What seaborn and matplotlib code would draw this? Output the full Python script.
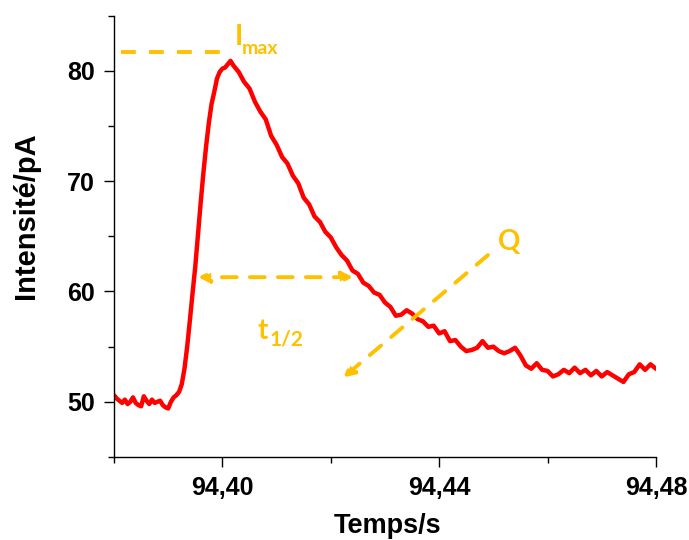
import numpy as np
import matplotlib.pyplot as plt
import seaborn as sns
import pandas as pd
from matplotlib.ticker import MultipleLocator, FuncFormatter

# temps (s) et intensité (pA)
temps = [
    94.3800, 94.3805, 94.3810, 94.3815, 94.3820, 94.3825, 94.3830, 94.3835, 94.3840, 94.3845,
    94.3850, 94.3855, 94.3860, 94.3865, 94.3870, 94.3875, 94.3880, 94.3885, 94.3890, 94.3895,
    94.3900, 94.3905, 94.3910, 94.3915, 94.3920, 94.3925, 94.3930, 94.3935, 94.3940, 94.3945,
    94.3950, 94.3955, 94.3960, 94.3965, 94.3970, 94.3975, 94.3980, 94.3985, 94.3990, 94.3995,
    94.4000, 94.4005, 94.4010, 94.4015, 94.4020,
    94.403, 94.404, 94.405, 94.406, 94.407, 94.408, 94.409, 94.410, 94.411, 94.412,
    94.413, 94.414, 94.415, 94.416, 94.417, 94.418, 94.419, 94.420, 94.421, 94.422,
    94.423, 94.424, 94.425, 94.426, 94.427, 94.428, 94.429, 94.430, 94.431, 94.432,
    94.433, 94.434, 94.435, 94.436, 94.437, 94.438, 94.439, 94.440, 94.441, 94.442,
    94.443, 94.444, 94.445, 94.446, 94.447, 94.448, 94.449, 94.450, 94.451, 94.452,
    94.453, 94.454, 94.455, 94.456, 94.457, 94.458, 94.459, 94.460, 94.461, 94.462,
    94.463, 94.464, 94.465, 94.466, 94.467, 94.468, 94.469, 94.470, 94.471, 94.472,
    94.473, 94.474, 94.475, 94.476, 94.477, 94.478, 94.479, 94.480,
]
intensite = [
    50.6, 50.3, 50.1, 49.9, 50.2, 49.8, 50.0, 50.4, 49.9, 49.7,
    49.6, 50.5, 50.1, 49.8, 50.2, 49.9, 50.0, 50.1, 49.7, 49.5,
    49.4, 50.0, 50.4, 50.6, 50.9, 51.6, 53.0, 55.0, 57.4, 59.9,
    62.3, 65.2, 68.1, 70.8, 73.2, 75.3, 77.0, 78.1, 79.3, 79.9,
    80.2, 80.3, 80.6, 80.9, 80.5,
    79.9, 79.0, 78.4, 77.2, 76.3, 75.6, 74.1, 73.3, 72.2, 71.6,
    70.5, 69.8, 68.5, 67.9, 66.8, 66.3, 65.4, 64.9, 64.0, 63.3,
    62.8, 61.9, 61.6, 60.8, 60.5, 59.9, 59.7, 59.0, 58.6, 57.8,
    57.9, 58.3, 58.0, 57.5, 57.3, 56.8, 56.9, 56.2, 56.4, 55.5,
    55.6, 55.0, 54.6, 54.7, 54.9, 55.5, 54.9, 55.0, 54.6, 54.4,
    54.6, 54.9, 54.2, 53.3, 53.0, 53.5, 52.9, 52.8, 52.3, 52.5,
    52.9, 52.6, 53.1, 52.6, 52.9, 52.4, 52.8, 52.3, 52.7, 52.4,
    52.1, 51.8, 52.5, 52.7, 53.4, 52.9, 53.4, 53.0,
]
x_ticks = [94.40, 94.44, 94.48]
y_ticks = [50, 60, 70, 80]

data = pd.DataFrame({"temps": temps, "intensite": intensite})

sns.set_style("ticks")
plt.rcParams["font.family"] = ["Liberation Sans", "DejaVu Sans"]

gold = "#FFC000"
dash = (0, (3.8, 3.4))

fig = plt.figure(figsize=(6.89, 5.40), dpi=100)
ax = fig.add_axes([0.1655, 0.1537, 0.7865, 0.8173])

sns.lineplot(data=data, x="temps", y="intensite", color="#FF0000", linewidth=3.2, ax=ax)

ax.set_xlim(94.38, 94.48)
ax.set_ylim(45, 85)
ax.set_xticks(x_ticks)
ax.set_yticks(y_ticks)
ax.xaxis.set_minor_locator(MultipleLocator(0.02))
ax.yaxis.set_minor_locator(MultipleLocator(5))
ax.xaxis.set_major_formatter(FuncFormatter(lambda v, p: f"{v:.2f}".replace(".", ",")))
ax.tick_params(which="major", length=7, width=1, pad=7, labelsize=18, direction="out",
               color="black", labelcolor="black")
ax.tick_params(which="minor", length=4, width=1, direction="out", color="black")
for lab in ax.get_xticklabels() + ax.get_yticklabels():
    lab.set_fontweight("bold")

for side in ["top", "right"]:
    ax.spines[side].set_visible(False)
for side in ["left", "bottom"]:
    ax.spines[side].set_color("black")
    ax.spines[side].set_linewidth(1.0)

ax.set_xlabel("Temps/s", fontsize=19.5, fontweight="bold", color="black")
ax.set_ylabel("Intensité/pA", fontsize=21, fontweight="bold", color="black")
ax.xaxis.set_label_coords(0.505, -0.126)
ax.yaxis.set_label_coords(-0.137, 0.546)

# I max
ax.plot([94.3812, 94.4000], [81.7, 81.7], color=gold, lw=2.8, linestyle=dash)
ax.text(94.4022, 82.3, "I", color=gold, fontsize=20, family="Lato", fontweight="bold")
ax.text(94.4036, 81.5, "max", color=gold, fontsize=14, family="Lato", fontweight="bold")

# t 1/2
ax.annotate("", xy=(94.3955, 61.3), xytext=(94.4241, 61.3),
            arrowprops=dict(arrowstyle="<|-|>", color=gold, lw=2.8, linestyle=dash,
                            mutation_scale=16, shrinkA=0, shrinkB=0))
ax.text(94.4065, 55.7, "t", color=gold, fontsize=20, family="Lato", fontweight="bold")
ax.text(94.4087, 55.1, "1/2", color=gold, fontsize=15, family="Lato", fontweight="bold")

# Q
ax.annotate("", xy=(94.4223, 52.2), xytext=(94.4490, 63.3),
            arrowprops=dict(arrowstyle="-|>", color=gold, lw=2.8, linestyle=dash,
                            mutation_scale=16, shrinkA=0, shrinkB=0))
ax.text(94.4509, 63.8, "Q", color=gold, fontsize=20, family="Lato", fontweight="bold")

plt.savefig("out.png", dpi=100)
